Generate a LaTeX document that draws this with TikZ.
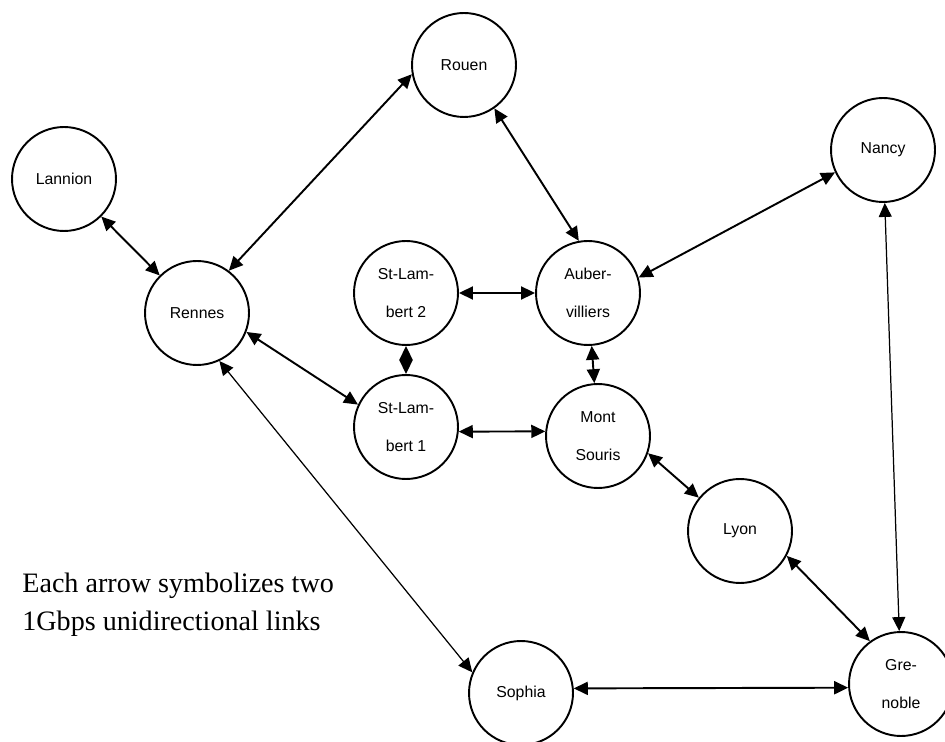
\documentclass[tikz,border=0pt]{standalone}
\usepackage{fontspec}
\setmainfont{Liberation Serif}
\setsansfont{Liberation Sans}
\usepackage{tikz}
\usetikzlibrary{arrows.meta}

\begin{document}
\begin{tikzpicture}[x=0.02cm,y=-0.02cm]

    \tikzstyle{city} = [draw, circle, line width=1.1pt, minimum size=2.08cm, inner sep=0pt, align=center, font=\sffamily\fontsize{9}{21.5}\selectfont]
    \tikzstyle{link} = [line width=1.1pt, <->, >={Triangle[length=0.28cm,width=0.26cm]}]

    \useasboundingbox (0,0) rectangle (945,742);

    % Nodes
    \node[city] at (464,65) (rouen) {Rouen};
    \node[city] at (64,179) (lannion) {Lannion};
    \node[city] at (883,150) (nancy) {Nancy};
    \node[city] at (197,313) (rennes) {Rennes};
    \node[city] at (406,293) (stl2) {St-Lam-\\bert 2};
    \node[city] at (588,293) (auber) {Auber-\\villiers};
    \node[city] at (406,427) (stl1) {St-Lam-\\bert 1};
    \node[city] at (598,436) (mont) {Mont\\Souris};
    \node[city] at (740,531) (lyon) {Lyon};
    \node[city] at (521,693) (sophia) {Sophia};
    \node[city] at (901,684) (gre) {Gre-\\noble};

    % Arrows
    \draw[link] (lannion) -- (rennes);
    \draw[link] (rouen.190) -- (rennes.53);
    \draw[link] (rouen.-55) -- (auber.100);
    \draw[link] (nancy.205) -- (auber.17);
    \draw[link, line width=0.7pt] (nancy) -- (gre);
    \draw[link] (stl2) -- (auber);
    \draw[link] (stl2) -- (stl1);
    \draw[link] (auber) -- (mont);
    \draw[link] (rennes.-21) -- (stl1.155);
    \draw[link] (stl1.-5) -- (mont.175);
    \draw[link, line width=0.7pt] (rennes.-65) -- (sophia.157);
    \draw[link] (mont.-19) -- (lyon.141);
    \draw[link] (lyon.-28) -- (gre.126);
    \draw[link] (sophia.5) -- (gre.184);

    % Labels
    \node[anchor=north west, inner sep=0pt, align=left, font=\fontsize{16}{21.5}\selectfont] at (22,573) (note)
    {Each arrow symbolizes two\\1Gbps unidirectional links};

\end{tikzpicture}
\end{document}
